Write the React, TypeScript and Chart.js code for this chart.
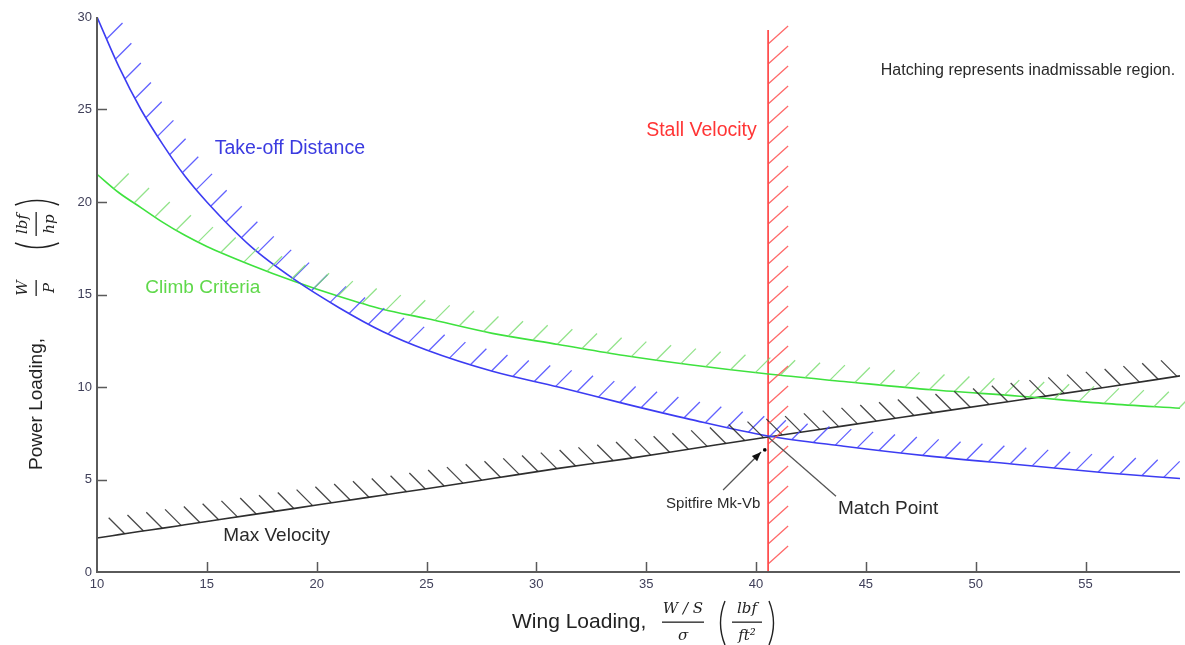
import React, { useEffect, useRef } from "react";
import { Chart, registerables } from "chart.js";

Chart.register(...registerables);

// ---- data ----
const wingLoading = [10, 11, 12, 13, 14, 15, 17, 19, 21, 23, 25, 28, 31, 34, 37, 40.55, 44, 48, 52, 56, 59.3];
const takeOffDistance = [30.0, 27.3, 25.0, 23.1, 21.4, 20.0, 17.6, 15.8, 14.3, 13.0, 12.0, 10.85, 10.0, 9.1, 8.25, 7.35, 6.8, 6.25, 5.8, 5.35, 5.05];
const climbCriteria = [21.5, 20.5, 19.7, 18.9, 18.2, 17.6, 16.6, 15.7, 14.9, 14.2, 13.7, 12.9, 12.3, 11.7, 11.2, 10.7, 10.3, 9.85, 9.5, 9.1, 8.85];
const maxVelocity = [1.84, 2.02, 2.2, 2.37, 2.55, 2.73, 3.09, 3.44, 3.8, 4.15, 4.5, 5.05, 5.6, 6.1, 6.65, 7.3, 7.9, 8.6, 9.3, 10.0, 10.6];
const stallX = [40.55, 40.55];
const stallY = [0, 29.3];
const spitfireX = [40.4];
const spitfireY = [6.6];
const xTicks = [10, 15, 20, 25, 30, 35, 40, 45, 50, 55];
const yTicks = [0, 5, 10, 15, 20, 25, 30];

const X_MIN = 10;
const X_MAX = 59.3;
const Y_MIN = 0;
const Y_MAX = 30;

// text annotations (data coordinates)
const labels = [
  { text: "Take-off Distance", x: 15.36, y: 22.9, color: "#3b3be0", size: 19.5, align: "left" },
  { text: "Climb Criteria", x: 12.2, y: 15.35, color: "#5fd84a", size: 19, align: "left" },
  { text: "Max Velocity", x: 15.75, y: 1.95, color: "#2a2a2a", size: 19, align: "left" },
  { text: "Stall Velocity", x: 35.0, y: 23.85, color: "#ff3535", size: 19.5, align: "left" },
  { text: "Hatching represents inadmissable region.", x: 45.68, y: 27.1, color: "#2a2a2a", size: 16, align: "left" },
  { text: "Spitfire Mk-Vb", x: 38.05, y: 3.7, color: "#2a2a2a", size: 15, align: "center" },
  { text: "Match Point", x: 43.73, y: 3.42, color: "#2a2a2a", size: 19, align: "left" },
];

const pairs = (xs: number[], ys: number[]) => xs.map((x, i) => ({ x, y: ys[i] }));

type HatchCfg = { spacing: number; offset: number; dx: number; dy: number; color: string };
const hatchByDataset: Record<number, HatchCfg> = {
  0: { spacing: 22, offset: 24, dx: 16, dy: -16, color: "rgba(70,70,255,0.85)" },
  1: { spacing: 25, offset: 22, dx: 15, dy: -15, color: "rgba(120,220,110,0.8)" },
  2: { spacing: 19, offset: 28, dx: -16, dy: -16, color: "rgba(40,40,40,0.85)" },
  3: { spacing: 20, offset: 8, dx: 20, dy: -18, color: "rgba(255,80,80,0.85)" },
};

function samplePath(data: any[]): { x: number; y: number }[] {
  const out: { x: number; y: number }[] = [];
  for (let i = 0; i < data.length; i++) {
    const p = data[i];
    if (i === 0) {
      out.push({ x: p.x, y: p.y });
      continue;
    }
    const a = data[i - 1];
    const c1x = a.cp2x ?? a.x, c1y = a.cp2y ?? a.y;
    const c2x = p.cp1x ?? p.x, c2y = p.cp1y ?? p.y;
    const N = 20;
    for (let k = 1; k <= N; k++) {
      const t = k / N, u = 1 - t;
      out.push({
        x: u * u * u * a.x + 3 * u * u * t * c1x + 3 * u * t * t * c2x + t * t * t * p.x,
        y: u * u * u * a.y + 3 * u * u * t * c1y + 3 * u * t * t * c2y + t * t * t * p.y,
      });
    }
  }
  return out;
}

const hatchPlugin = {
  id: "hatch",
  afterDatasetsDraw(chart: any) {
    const ctx = chart.ctx;
    ctx.save();
    Object.keys(hatchByDataset).forEach((k) => {
      const idx = Number(k);
      const cfg = hatchByDataset[idx];
      const meta = chart.getDatasetMeta(idx);
      const pts = samplePath(meta.data);
      ctx.beginPath();
      ctx.strokeStyle = cfg.color;
      ctx.lineWidth = 1.3;
      let t = cfg.offset;
      for (let i = 0; i < pts.length - 1; i++) {
        const a = pts[i], b = pts[i + 1];
        const len = Math.hypot(b.x - a.x, b.y - a.y);
        while (t <= len) {
          const px = a.x + ((b.x - a.x) * t) / len;
          const py = a.y + ((b.y - a.y) * t) / len;
          ctx.moveTo(px, py);
          ctx.lineTo(px + cfg.dx, py + cfg.dy);
          t += cfg.spacing;
        }
        t -= len;
      }
      ctx.stroke();
    });
    ctx.restore();
  },
};

function paren(ctx: CanvasRenderingContext2D, x: number, cy: number, h: number, open: boolean) {
  ctx.beginPath();
  if (open) {
    ctx.moveTo(x + 5, cy - h);
    ctx.quadraticCurveTo(x - 4, cy, x + 5, cy + h);
  } else {
    ctx.moveTo(x, cy - h);
    ctx.quadraticCurveTo(x + 9, cy, x, cy + h);
  }
  ctx.stroke();
}

function mathTitle(
  ctx: CanvasRenderingContext2D,
  ox: number,
  oy: number,
  rot: number,
  c: any
) {
  ctx.save();
  ctx.translate(ox, oy);
  ctx.rotate(rot);
  ctx.fillStyle = "#222";
  ctx.strokeStyle = "#222";
  ctx.textBaseline = "alphabetic";
  ctx.textAlign = "left";
  ctx.font = `${c.labelSize}px Arial, "Liberation Sans", sans-serif`;
  ctx.fillText(c.label, 0, 0);
  ctx.font = `italic ${c.mathSize}px "DejaVu Serif", serif`;
  ctx.textAlign = "center";
  ctx.fillText(c.num1, c.f1, -15);
  ctx.fillText(c.den1, c.f1, 12);
  ctx.fillRect(c.f1 - c.w1 / 2, -6.5, c.w1, 1.3);
  ctx.lineWidth = 1.4;
  paren(ctx, c.p1, -5, 22, true);
  ctx.fillText(c.num2, c.f2, -15);
  ctx.fillText(c.den2, c.f2, 12);
  ctx.fillRect(c.f2 - c.w2 / 2, -6.5, c.w2, 1.3);
  paren(ctx, c.p2, -5, 22, false);
  ctx.restore();
}

const decorPlugin = {
  id: "decor",
  afterDraw(chart: any) {
    const ctx = chart.ctx as CanvasRenderingContext2D;
    const xs = chart.scales.x;
    const ys = chart.scales.y;
    const area = chart.chartArea;
    ctx.save();
    // axes lines
    ctx.strokeStyle = "#5a5a5a";
    ctx.lineWidth = 2;
    ctx.beginPath();
    ctx.moveTo(area.left, area.top);
    ctx.lineTo(area.left, area.bottom);
    ctx.lineTo(area.right, area.bottom);
    ctx.stroke();
    // inner ticks
    ctx.lineWidth = 1.5;
    ctx.beginPath();
    xTicks.forEach((v) => {
      if (v === X_MIN) return;
      const px = Math.round(xs.getPixelForValue(v)) + 0.5;
      ctx.moveTo(px, area.bottom);
      ctx.lineTo(px, area.bottom - 10);
    });
    yTicks.forEach((v) => {
      if (v === Y_MIN || v === Y_MAX) return;
      const py = Math.round(ys.getPixelForValue(v)) + 0.5;
      ctx.moveTo(area.left, py);
      ctx.lineTo(area.left + 10, py);
    });
    ctx.stroke();

    // pointer lines
    const P = (x: number, y: number) => ({ x: xs.getPixelForValue(x), y: ys.getPixelForValue(y) });
    // Match point pointer
    const m0 = P(40.55, 7.3), m1 = P(43.64, 4.1);
    ctx.strokeStyle = "#555";
    ctx.lineWidth = 1.3;
    ctx.beginPath();
    ctx.moveTo(m0.x, m0.y);
    ctx.lineTo(m1.x, m1.y);
    ctx.stroke();
    // Spitfire arrow
    const a0 = P(38.5, 4.43), a1 = P(40.23, 6.49);
    ctx.beginPath();
    ctx.moveTo(a0.x, a0.y);
    ctx.lineTo(a1.x, a1.y);
    ctx.stroke();
    const ang = Math.atan2(a1.y - a0.y, a1.x - a0.x);
    ctx.fillStyle = "#111";
    ctx.beginPath();
    ctx.moveTo(a1.x, a1.y);
    ctx.lineTo(a1.x - 10 * Math.cos(ang - 0.38), a1.y - 10 * Math.sin(ang - 0.38));
    ctx.lineTo(a1.x - 10 * Math.cos(ang + 0.38), a1.y - 10 * Math.sin(ang + 0.38));
    ctx.closePath();
    ctx.fill();

    // text labels
    ctx.textBaseline = "middle";
    labels.forEach((l) => {
      const p = P(l.x, l.y);
      ctx.fillStyle = l.color;
      ctx.textAlign = l.align as CanvasTextAlign;
      ctx.font = `${l.size}px Arial, "Liberation Sans", sans-serif`;
      ctx.fillText(l.text, p.x, p.y);
    });

    // axis titles
    mathTitle(ctx, 512, 628, 0, {
      label: "Wing Loading,",
      labelSize: 21,
      mathSize: 15,
      num1: "W / S",
      den1: "σ",
      f1: 171,
      w1: 42,
      p1: 208,
      num2: "lbf",
      den2: "ft²",
      f2: 235,
      w2: 30,
      p2: 257,
    });
    mathTitle(ctx, 42, 470, -Math.PI / 2, {
      label: "Power Loading,",
      labelSize: 19,
      mathSize: 15,
      num1: "W",
      den1: "P",
      f1: 182,
      w1: 16,
      p1: 222,
      num2: "lbf",
      den2: "hp",
      f2: 246,
      w2: 24,
      p2: 265,
    });
    ctx.restore();
  },
};

export default function App() {
  const ref = useRef<HTMLCanvasElement | null>(null);
  useEffect(() => {
    if (!ref.current) return;
    const chart = new Chart(ref.current, {
      type: "scatter",
      data: {
        datasets: [
          {
            label: "Take-off Distance",
            data: pairs(wingLoading, takeOffDistance),
            showLine: true,
            borderColor: "#3c3cf2",
            borderWidth: 1.6,
            pointRadius: 0,
            cubicInterpolationMode: "monotone",
          },
          {
            label: "Climb Criteria",
            data: pairs(wingLoading, climbCriteria),
            showLine: true,
            borderColor: "#3ee23e",
            borderWidth: 1.6,
            pointRadius: 0,
            cubicInterpolationMode: "monotone",
          },
          {
            label: "Max Velocity",
            data: pairs(wingLoading, maxVelocity),
            showLine: true,
            borderColor: "#2e2e2e",
            borderWidth: 1.6,
            pointRadius: 0,
            cubicInterpolationMode: "monotone",
          },
          {
            label: "Stall Velocity",
            data: pairs(stallX, stallY),
            showLine: true,
            borderColor: "#ff3c3c",
            borderWidth: 1.6,
            pointRadius: 0,
          },
          {
            label: "Spitfire Mk-Vb",
            data: pairs(spitfireX, spitfireY),
            showLine: false,
            pointStyle: "rect",
            pointRadius: 1.6,
            backgroundColor: "#000",
            borderColor: "#000",
          },
        ],
      },
      options: {
        animation: false,
        responsive: true,
        maintainAspectRatio: false,
        layout: { padding: { left: 0, top: 17, right: 2, bottom: 0 } },
        plugins: { legend: { display: false }, tooltip: { enabled: false } },
        scales: {
          x: {
            type: "linear",
            min: X_MIN,
            max: X_MAX,
            grid: { display: false, drawTicks: false },
            border: { display: false },
            afterBuildTicks: (s: any) => {
              s.ticks = xTicks.map((v) => ({ value: v }));
            },
            afterFit: (s: any) => {
              s.height = 73;
            },
            ticks: {
              autoSkip: false,
              maxRotation: 0,
              padding: 5,
              color: "#40405a",
              font: { size: 13, family: 'Arial, "Liberation Sans", sans-serif' },
            },
          },
          y: {
            type: "linear",
            min: Y_MIN,
            max: Y_MAX,
            grid: { display: false, drawTicks: false },
            border: { display: false },
            afterBuildTicks: (s: any) => {
              s.ticks = yTicks.map((v) => ({ value: v }));
            },
            afterFit: (s: any) => {
              s.width = 97;
            },
            ticks: {
              autoSkip: false,
              padding: 5,
              color: "#40405a",
              font: { size: 13, family: 'Arial, "Liberation Sans", sans-serif' },
            },
          },
        },
      },
      plugins: [hatchPlugin, decorPlugin],
    } as any);
    return () => chart.destroy();
  }, []);
  return (
    <div style={{ position: "absolute", left: 0, top: 0, width: 1185, height: 645, background: "#fff" }}>
      <canvas ref={ref} />
    </div>
  );
}
